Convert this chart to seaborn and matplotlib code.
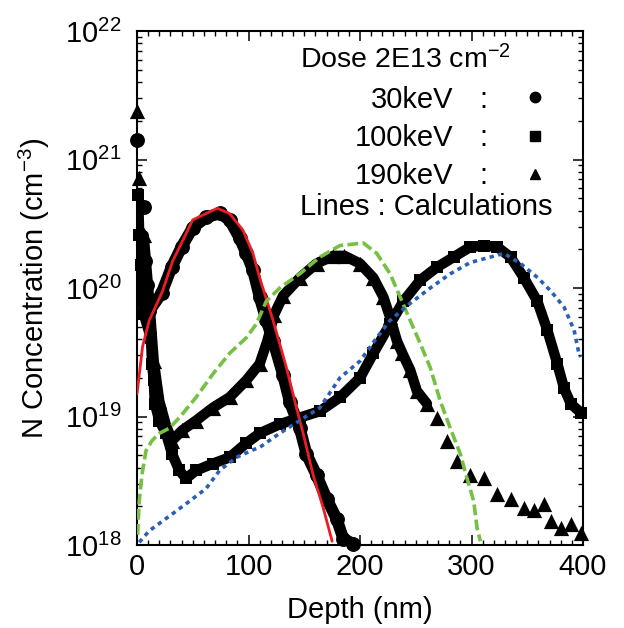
import numpy as np
import pandas as pd
import matplotlib
matplotlib.use("Agg")
import matplotlib.pyplot as plt
import seaborn as sns
from matplotlib.ticker import LogLocator, MultipleLocator, LogFormatterMathtext, NullFormatter

# ---- measured profiles (markers) ----
# 30 keV : circles
circ_depth = [0, 6, 7, 9, 11, 22, 31, 40, 50, 62, 74, 83, 92, 98, 104, 110, 116, 122,
              131, 137, 146, 152, 161, 170, 179, 185, 194]
circ_conc = [1.41e21, 4.27e20, 1.62e20, 1.05e20, 6.6e19, 9.1e19, 1.45e20, 2.09e20, 2.95e20,
             3.55e20, 3.8e20, 3.39e20, 2.45e20, 1.86e20, 1.38e20, 8.5e19, 5.6e19, 3.9e19,
             2.1e19, 1.3e19, 8.1e18, 5.1e18, 3.5e18, 2.3e18, 1.6e18, 1.12e18, 1.02e18]

# 100 keV : squares
sq_depth = [1, 2, 3.5, 6, 12.5, 13.5, 15, 16, 20, 26, 31.5, 38, 44, 53, 68, 83, 98, 110,
            128, 146, 164, 182, 200, 212, 227, 239, 254, 269, 284, 299, 311, 323, 335,
            347, 359, 368, 377, 383, 389, 398]
sq_conc = [5.25e20, 2.57e20, 1.51e20, 6.3e19, 4.07e19, 2.57e19, 1.91e19, 1.26e19, 9.3e18,
           7.4e18, 5.1e18, 3.8e18, 3.3e18, 3.8e18, 4.3e18, 4.8e18, 6.2e18, 7.4e18, 8.7e18,
           9.8e18, 1.1e19, 1.41e19, 2.0e19, 3.1e19, 5.25e19, 7.9e19, 1.15e20, 1.45e20,
           1.74e20, 2.09e20, 2.14e20, 2.09e20, 1.74e20, 1.2e20, 7.9e19, 4.7e19, 2.57e19,
           1.66e19, 1.26e19, 1.07e19]

# 190 keV : triangles
tri_depth = [0, 1.5, 6, 11, 15, 20, 26, 31.5, 40.5, 53, 68, 83, 98, 110, 117, 123, 131,
             146, 161, 176, 186, 200, 212, 221, 227, 233, 238, 245, 251, 260, 269, 278,
             287, 299, 311, 323, 335, 347, 356, 365, 371, 380, 389, 398]
tri_conc = [2.4e21, 7.2e20, 2.57e20, 7.9e19, 2.7e19, 1.32e19, 8.5e18, 6.5e18, 7.8e18,
            9.3e18, 1.17e19, 1.41e19, 1.91e19, 2.57e19, 3.9e19, 6.2e19, 8.7e19, 1.2e20,
            1.55e20, 1.78e20, 1.78e20, 1.55e20, 1.2e20, 8.5e19, 5.9e19, 3.9e19, 3.1e19,
            2.3e19, 1.58e19, 1.26e19, 9.8e18, 6.5e18, 4.5e18, 3.5e18, 3.3e18, 2.5e18,
            2.3e18, 1.95e18, 1.86e18, 2.1e18, 1.55e18, 1.35e18, 1.45e18, 1.23e18]

# ---- calculations (lines) ----
red_depth = [0, 5, 11, 20, 23, 32, 41, 50, 62, 72, 83, 95, 104, 110, 122, 134, 143, 149,
             158, 167, 175]
red_conc = [1.5e19, 3.5e19, 5.6e19, 8.3e19, 9.5e19, 1.62e20, 2.34e20, 3.39e20, 3.8e20,
            4.17e20, 3.8e20, 2.82e20, 1.86e20, 1.2e20, 5.6e19, 2.4e19, 1.17e19, 7.4e18,
            3.5e18, 1.95e18, 1.07e18]

green_depth = [0.5, 2, 4.5, 8, 13.5, 20, 29, 38, 53, 68, 83, 98, 107, 116, 128, 146, 164,
               182, 203, 215, 227, 236, 245, 254, 263, 272, 281, 290, 296, 302, 305, 308]
green_conc = [1.2e18, 2.19e18, 3.55e18, 5.4e18, 6.5e18, 7.4e18, 8.1e18, 9.8e18, 1.41e19,
              2.14e19, 3.1e19, 4.1e19, 5.25e19, 7.9e19, 1.0e20, 1.29e20, 1.74e20, 2.14e20,
              2.24e20, 1.86e20, 1.29e20, 8.5e19, 5.6e19, 3.7e19, 2.4e19, 1.32e19, 8.1e18,
              5.1e18, 3.3e18, 2.19e18, 1.35e18, 1.07e18]

blue_depth = [2, 11, 31.5, 47, 62, 74, 89, 104, 110, 128, 146, 164, 182, 200, 215, 227,
              245, 263, 281, 299, 317, 329, 344, 359.5, 371, 383, 392, 396, 398]
blue_conc = [1.05e18, 1.29e18, 1.74e18, 2.19e18, 2.75e18, 3.8e18, 4.8e18, 5.5e18, 5.75e18,
             7.4e18, 9.3e18, 1.17e19, 2.0e19, 2.7e19, 4.1e19, 5.6e19, 7.6e19, 1.0e20,
             1.29e20, 1.58e20, 1.74e20, 1.86e20, 1.55e20, 1.2e20, 9.5e19, 7.1e19, 4.7e19,
             3.2e19, 2.9e19]

legend_labels = ["30keV", "100keV", "190keV"]

sns.set_theme(style="ticks")
plt.rcParams["font.family"] = ["Liberation Sans", "DejaVu Sans"]
plt.rcParams["mathtext.default"] = "regular"
plt.rcParams["text.color"] = "black"
plt.rcParams["axes.labelcolor"] = "black"
plt.rcParams["xtick.color"] = "black"
plt.rcParams["ytick.color"] = "black"

FS = 21

fig = plt.figure(figsize=(6.24, 6.28), dpi=100)
ax = fig.add_axes([137 / 624, 1 - 545 / 628, 446 / 624, 514 / 628])

circ = pd.DataFrame({"depth": circ_depth, "conc": circ_conc})
sq = pd.DataFrame({"depth": sq_depth, "conc": sq_conc})
tri = pd.DataFrame({"depth": tri_depth, "conc": tri_conc})

# continuous bands of densely measured points
BAND = 7.5
sns.lineplot(data=circ.iloc[4:], x="depth", y="conc", color="black", linewidth=BAND + 1,
             sort=False, estimator=None, ax=ax)
sns.lineplot(data=sq, x="depth", y="conc", color="black", linewidth=BAND,
             sort=False, estimator=None, ax=ax)
sns.lineplot(data=tri[(tri.depth >= 6) & (tri.depth <= 262)], x="depth", y="conc",
             color="black", linewidth=BAND, sort=False, estimator=None, ax=ax)

sns.scatterplot(data=circ, x="depth", y="conc", marker="o", s=115, color="black",
                edgecolor="black", linewidth=0, clip_on=False, ax=ax, zorder=3)
sns.scatterplot(data=sq, x="depth", y="conc", marker="s", s=85, color="black",
                edgecolor="black", linewidth=0, clip_on=False, ax=ax, zorder=3)
sns.scatterplot(data=tri, x="depth", y="conc", marker="^", s=120, color="black",
                edgecolor="black", linewidth=0, clip_on=False, ax=ax, zorder=3)

red = pd.DataFrame({"depth": red_depth, "conc": red_conc})
green = pd.DataFrame({"depth": green_depth, "conc": green_conc})
blue = pd.DataFrame({"depth": blue_depth, "conc": blue_conc})
sns.lineplot(data=red, x="depth", y="conc", color="#ec1c24", linewidth=2.0,
             sort=False, estimator=None, ax=ax, zorder=4)
sns.lineplot(data=green, x="depth", y="conc", color="#76c043", linewidth=2.6,
             linestyle=(0, (3, 1.2)), sort=False, estimator=None, ax=ax, zorder=4)
sns.lineplot(data=blue, x="depth", y="conc", color="#2b5fb4", linewidth=2.6,
             linestyle=(0, (1.2, 1.2)), sort=False, estimator=None, ax=ax, zorder=4)

ax.set_yscale("log")
ax.set_xlim(0, 400)
ax.set_ylim(1e18, 1e22)

ax.xaxis.set_major_locator(MultipleLocator(100))
ax.xaxis.set_minor_locator(MultipleLocator(10))
ax.yaxis.set_major_locator(LogLocator(base=10, numticks=10))
ax.yaxis.set_minor_locator(LogLocator(base=10, subs=np.arange(2, 10), numticks=100))
ax.yaxis.set_major_formatter(LogFormatterMathtext())
ax.yaxis.set_minor_formatter(NullFormatter())

ax.tick_params(which="both", direction="in", top=True, right=True, colors="black",
               labelcolor="black", labelsize=FS)
ax.tick_params(which="major", length=7, width=1.1)
ax.tick_params(which="minor", length=3.5, width=1.0)
ax.tick_params(axis="x", which="major", pad=6)
ax.tick_params(axis="y", which="major", pad=11)
for sp in ax.spines.values():
    sp.set_linewidth(1.5)
    sp.set_color("black")

ax.set_xlabel("Depth (nm)", fontsize=FS, color="black")
ax.set_ylabel("N Concentration (cm$^{-3}$)", fontsize=FS, color="black")
ax.xaxis.set_label_coords(0.5, -0.1)
ax.yaxis.set_label_coords(-0.19, 0.5)

# legend block
ax.text(0.365, 0.928, "Dose 2E13 cm$^{-2}$", transform=ax.transAxes, fontsize=20.5,
        ha="left", va="baseline", color="black")
ys_text = [0.850, 0.776, 0.702]
ys_mark = [0.872, 0.796, 0.722]
marks = ["o", "s", "^"]
msz = [7.5, 6.5, 7]
for lab, yt, ym, mk, ms in zip(legend_labels, ys_text, ys_mark, marks, msz):
    ax.text(0.709, yt, lab, transform=ax.transAxes, fontsize=FS, ha="right",
            va="baseline", color="black")
    ax.text(0.776, yt, ":", transform=ax.transAxes, fontsize=FS, ha="center",
            va="baseline", color="black")
    ax.plot([0.892], [ym], marker=mk, markersize=ms, color="black", linestyle="none",
            transform=ax.transAxes, clip_on=False)
ax.text(0.365, 0.642, "Lines : Calculations", transform=ax.transAxes, fontsize=FS,
        ha="left", va="baseline", color="black")

if ax.get_legend() is not None:
    ax.get_legend().remove()

fig.savefig("out.png", dpi=100, facecolor="white")
